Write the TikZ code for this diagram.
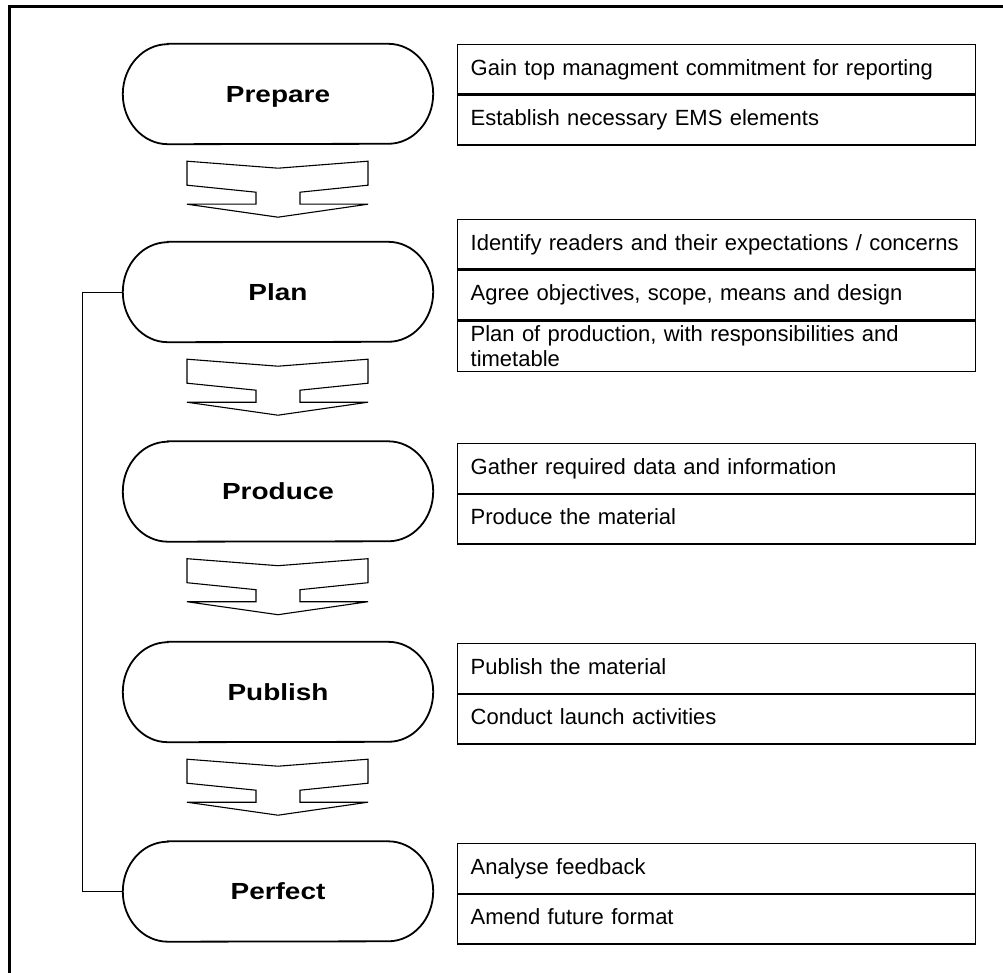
\documentclass[tikz,border=0pt]{standalone}
\usepackage{fontspec}
\usepackage{graphicx}
\setmainfont{Liberation Sans}
\usetikzlibrary{calc}

% widened bold label used inside the stage capsules
\newcommand\widelabel[1]{\scalebox{1.2}[1]{#1}}

% capsule outline drawn around a stage node
\newcommand\stadiumoutline[1]{%
  \draw[stadline] ([xshift=45pt]#1.north west) -- ([xshift=-45pt]#1.north east)
    arc[start angle=90, end angle=-90, x radius=45pt, y radius=50pt]
    -- ([xshift=45pt]#1.south west)
    arc[start angle=270, end angle=90, x radius=45pt, y radius=50pt] -- cycle;}

\begin{document}
\begin{tikzpicture}[x=1pt, y=1pt,
  stage/.style={minimum width=310pt, minimum height=100pt, inner sep=0pt,
    font=\fontsize{23.3}{24}\selectfont\bfseries, text height=16.7pt, text depth=0pt},
  stadline/.style={line width=1.8pt},
  task/.style={draw, line width=1.3pt, minimum height=#1, inner xsep=13pt, inner ysep=0pt,
    text width=492pt, align=left, font=\fontsize{22}{23}\selectfont,
    anchor=north west, text height=16pt, text depth=4.5pt},
  task/.default=49.5pt,
  tasktwo/.style={draw, line width=1.3pt, minimum height=50pt, inner xsep=13pt, inner ysep=0pt,
    text width=492pt, align=left, font=\fontsize{22}{25}\selectfont, anchor=north west},
  flowarrow/.style={line width=1.1pt, line join=miter},
  feedback/.style={line width=0.9pt},
  frameline/.style={line width=3pt},
  chevron/.pic={
    \draw[flowarrow] (-91,0) -- (0,-7) -- (90,0) -- (90,-24) -- (22,-31) -- (22,-43)
      -- (90,-43) -- (0,-56) -- (-91,-43) -- (-22,-43) -- (-22,-31) -- (-91,-24) -- cycle;}
]
\useasboundingbox (0,0) rectangle (1003,-973);

% page frame
\draw[frameline] (9,-973) -- (9,-7) -- (1003,-7);

% stages
\node[stage] (prep) at (278,-94)    {\widelabel{Prepare}};
\node[stage] (plan) at (278,-292)   {\widelabel{Plan}};
\node[stage] (prod) at (278,-491.5) {\widelabel{Produce}};
\node[stage] (publ) at (278,-692)   {\widelabel{Publish}};
\node[stage] (perf) at (278,-891.5) {\widelabel{Perfect}};
\foreach \s in {prep,plan,prod,publ,perf} {\stadiumoutline{\s}}

% block arrows between stages
\pic at ($(prep.south)+(0,-17)$) {chevron};
\pic at ($(plan.south)+(0,-17)$) {chevron};
\pic at ($(prod.south)+(0,-17)$) {chevron};
\pic at ($(publ.south)+(0,-17)$) {chevron};

% feedback loop from Perfect back to Plan
\draw[feedback] (plan.west) -- ++(-40,0) |- (perf.west);

% task lists
\node[task] (a1) at (457,-44) {Gain top managment commitment for reporting};
\node[task] (a2) at (a1.south west) {Establish necessary EMS elements};

\node[task] (b1) at (457,-219) {Identify readers and their expectations / concerns};
\node[task] (b2) at (b1.south west) {Agree objectives, scope, means and design};
\node[tasktwo] (b3) at (b2.south west) {Plan of production, with responsibilities and\\timetable};

\node[task] (c1) at (457,-443) {Gather required data and information};
\node[task] (c2) at (c1.south west) {Produce the material};

\node[task] (d1) at (457,-643) {Publish the material};
\node[task] (d2) at (d1.south west) {Conduct launch activities};

\node[task] (e1) at (457,-843) {Analyse feedback};
\node[task] (e2) at (e1.south west) {Amend future format};
\end{tikzpicture}
\end{document}
